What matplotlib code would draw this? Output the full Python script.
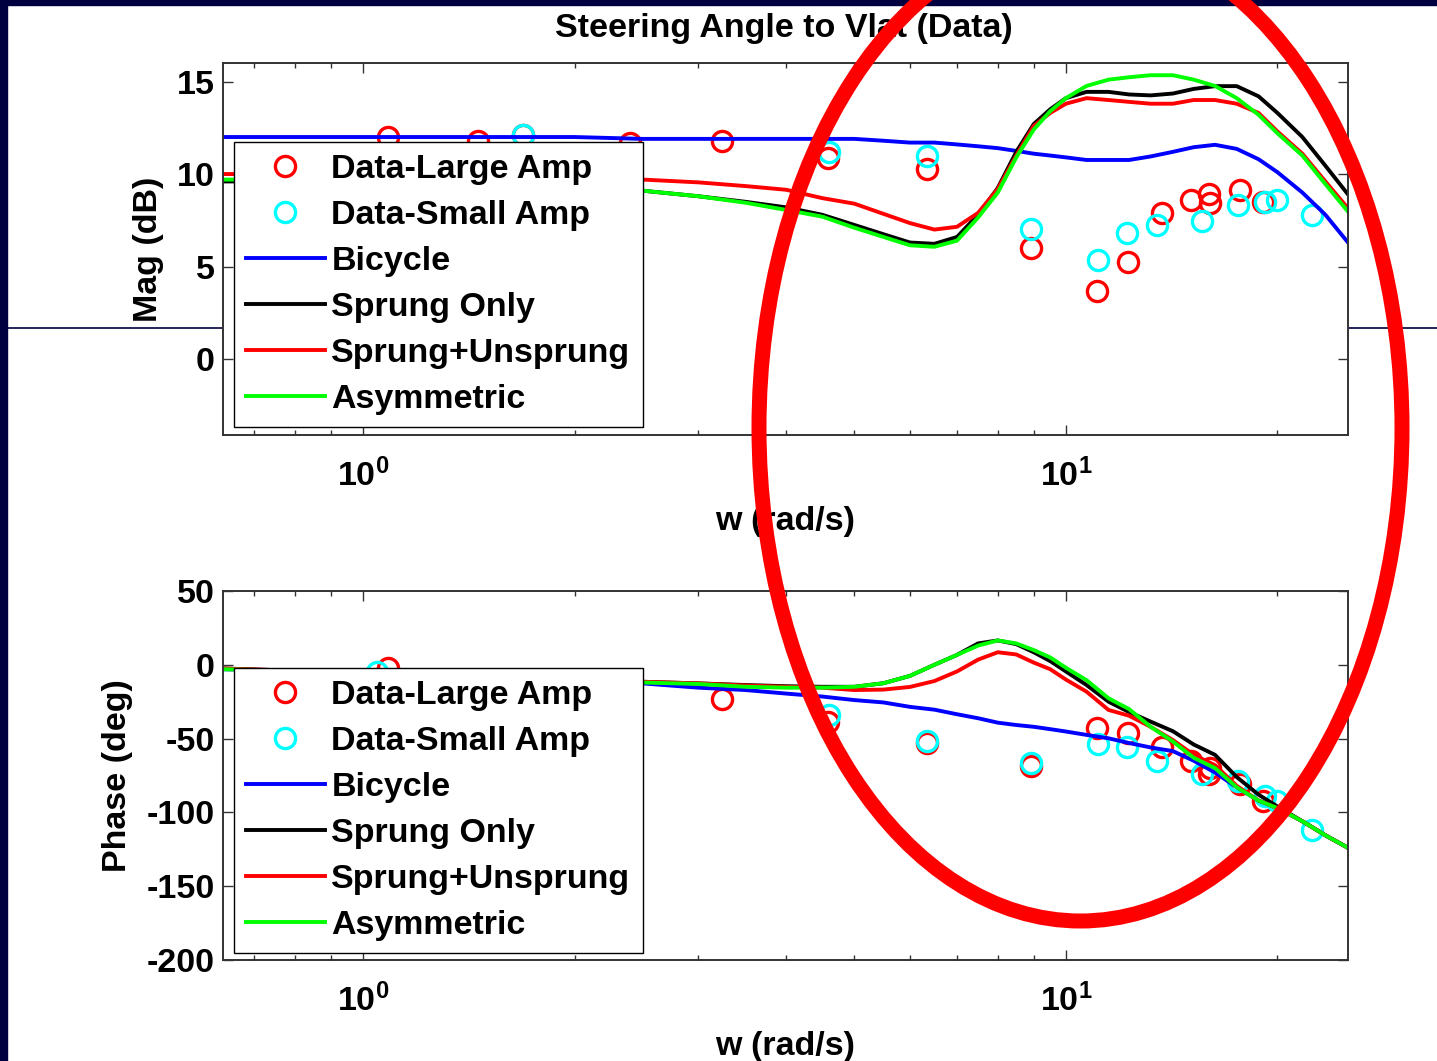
import math
import matplotlib
matplotlib.use("Agg")
import matplotlib.pyplot as plt
from matplotlib.patches import Ellipse, Rectangle
from matplotlib.lines import Line2D
from matplotlib.ticker import FixedLocator, FuncFormatter, LogLocator, NullFormatter

plt.rcParams['font.family'] = ['Liberation Sans', 'DejaVu Sans']
plt.rcParams['font.weight'] = 'bold'
plt.rcParams['axes.labelweight'] = 'bold'
plt.rcParams['axes.unicode_minus'] = False
plt.rcParams['mathtext.fontset'] = 'custom'
plt.rcParams['mathtext.rm'] = 'Liberation Sans:bold'
plt.rcParams['mathtext.it'] = 'Liberation Sans:bold'
plt.rcParams['mathtext.bf'] = 'Liberation Sans:bold'
plt.rcParams['mathtext.default'] = 'rm'

# measured data, large steering amplitude
w_large = [1.085, 1.458, 1.689, 2.40, 3.24, 4.58, 6.35, 8.91, 11.07, 12.25,
           13.7, 15.09, 15.96, 16.05, 17.7, 19.05]
mag_large = [12.0, 11.8, 12.1, 11.7, 11.76, 10.85, 10.27, 5.98, 3.7, 5.25,
             7.91, 8.6, 8.94, 8.46, 9.15, 8.5]
ph_large = [-2.5, -16.0, -14.0, -14.0, -23.4, -38.5, -53.0, -68.9, -43.0, -46.4,
            -55.4, -65.1, -74.1, -70.0, -81.0, -92.6]

# measured data, small steering amplitude
w_small = [1.047, 1.689, 4.60, 6.34, 8.91, 11.1, 12.2, 13.5, 15.6, 17.55,
           19.2, 19.98, 22.4]
mag_small = [10.8, 12.1, 11.17, 10.95, 7.04, 5.38, 6.83, 7.23, 7.46, 8.31,
             8.5, 8.6, 7.79]
ph_small = [-4.7, -14.0, -34.0, -51.6, -66.2, -53.8, -56.0, -65.1, -73.9, -79.0,
            -89.0, -92.6, -111.7]

# model frequency grid (rad/s)
w_model = [0.63, 0.8, 1.0, 1.3, 1.6, 2.0, 2.5, 3.0, 3.5, 4.0, 4.5, 5.0, 5.5,
           6.0, 6.5, 7.0, 7.5, 8.0, 8.5, 9.0, 9.5, 10.0, 10.7, 11.5, 12.3,
           13.2, 14.2, 15.2, 16.3, 17.5, 18.8, 20.0, 21.7, 23.4, 25.2]

mag_bicycle = [12.0, 12.0, 12.0, 12.0, 12.0, 12.0, 11.9, 11.9, 11.9, 11.9,
               11.9, 11.9, 11.8, 11.7, 11.7, 11.6, 11.5, 11.4, 11.25, 11.1,
               11.0, 10.9, 10.76, 10.76, 10.76, 10.95, 11.2, 11.45, 11.58,
               11.36, 10.8, 10.1, 9.0, 7.8, 6.3]
mag_sprung = [9.6, 9.6, 9.5, 9.4, 9.35, 9.2, 9.1, 8.8, 8.5, 8.2, 7.8, 7.25,
              6.75, 6.3, 6.23, 6.6, 7.8, 9.25, 11.2, 12.7, 13.5, 14.1, 14.44,
              14.44, 14.3, 14.25, 14.35, 14.6, 14.75, 14.75, 14.2, 13.3, 12.0,
              10.45, 8.9]
mag_unsprung = [10.0, 10.0, 9.9, 9.85, 9.8, 9.75, 9.7, 9.55, 9.35, 9.15, 8.7,
                8.4, 7.85, 7.35, 7.0, 7.15, 7.9, 9.2, 11.0, 12.6, 13.3, 13.8,
                14.1, 14.0, 13.9, 13.8, 13.8, 14.0, 14.0, 13.8, 13.3, 12.3,
                11.1, 9.6, 8.15]
mag_asym = [9.7, 9.7, 9.5, 9.4, 9.35, 9.2, 9.1, 8.8, 8.45, 8.06, 7.7, 7.1,
            6.6, 6.15, 6.07, 6.4, 7.65, 9.0, 10.9, 12.4, 13.4, 14.1, 14.76,
            15.1, 15.23, 15.34, 15.34, 15.1, 14.76, 14.1, 13.2, 12.2, 11.0,
            9.46, 7.97]

ph_bicycle = [-3.0, -4.0, -5.0, -7.0, -8.5, -10.0, -12.6, -15.5, -17.1, -19.5,
              -21.5, -23.9, -25.5, -28.5, -30.4, -33.5, -36.2, -39.2, -40.8,
              -42.0, -43.6, -45.2, -47.5, -49.8, -53.0, -56.0, -58.5, -65.0,
              -73.0, -83.0, -92.0, -97.1, -106.0, -115.5, -124.0]
ph_sprung = [-2.5, -4.0, -5.0, -7.0, -8.5, -10.0, -11.5, -12.6, -13.7, -14.5,
             -14.9, -14.9, -12.5, -7.5, 0.0, 6.7, 14.5, 16.5, 14.0, 8.5, 2.5,
             -4.5, -13.7, -25.0, -32.0, -38.5, -45.0, -54.0, -61.0, -76.0,
             -88.0, -96.0, -106.0, -115.5, -124.0]
ph_unsprung = [-2.5, -4.0, -5.0, -7.0, -8.5, -10.0, -11.5, -12.6, -14.0,
               -14.9, -15.5, -17.1, -16.8, -15.0, -11.0, -4.5, 3.5, 8.5, 7.0,
               1.5, -3.0, -10.0, -18.2, -30.6, -34.5, -42.0, -51.0, -61.0,
               -68.0, -82.0, -92.0, -97.1, -106.0, -115.5, -124.0]
ph_asym = [-3.0, -4.0, -5.0, -7.0, -8.5, -10.0, -12.0, -13.0, -14.9, -15.5,
           -15.5, -14.9, -12.5, -7.5, 0.0, 6.7, 13.0, 16.5, 14.5, 10.0, 5.0,
           -2.0, -10.4, -22.7, -30.0, -42.0, -52.0, -63.0, -70.0, -83.0,
           -92.0, -97.1, -106.0, -115.5, -124.0]

labels = ['Data-Large Amp', 'Data-Small Amp', 'Bicycle', 'Sprung Only',
          'Sprung+Unsprung', 'Asymmetric']

W, H = 1437, 1061
fig = plt.figure(figsize=(W / 100, H / 100), dpi=100)
fig.patch.set_facecolor('white')

navy = '#000040'
# slide decorations
fig.add_artist(Rectangle((0, 0), 7 / W, 1, transform=fig.transFigure,
                         color=navy, zorder=-2))
fig.add_artist(Rectangle((0, 1 - 5 / H), 1, 5 / H, transform=fig.transFigure,
                         color=navy, zorder=-2))
fig.add_artist(Line2D([0, 1], [1 - 328 / H, 1 - 328 / H], transform=fig.transFigure,
                      color=navy, lw=1.2, zorder=-1))

ax1 = fig.add_axes([223 / W, 1 - 435 / H, 1125 / W, 372 / H])
ax2 = fig.add_axes([223 / W, 1 - 960 / H, 1125 / W, 369 / H])


def draw(ax, d_large, d_small, m_bic, m_spr, m_uns, m_asy):
    ax.semilogx(w_large, d_large, 'o', mfc='none', mec='#ff0000', ms=14.5, mew=2.4)
    ax.semilogx(w_small, d_small, 'o', mfc='none', mec='#00ffff', ms=14.5, mew=2.4)
    ax.semilogx(w_model, m_bic, color='#0000ff', lw=2.8)
    ax.semilogx(w_model, m_spr, color='black', lw=2.8)
    ax.semilogx(w_model, m_uns, color='#ff0000', lw=2.8)
    ax.semilogx(w_model, m_asy, color='#00ff00', lw=2.8)
    ax.set_xlim(0.632, 25.2)
    ax.xaxis.set_major_locator(FixedLocator([1, 10]))
    ax.xaxis.set_major_formatter(FuncFormatter(
        lambda v, p: r'$10^{%d}$' % round(math.log10(v))))
    ax.xaxis.set_minor_locator(LogLocator(base=10, subs=range(2, 10)))
    ax.xaxis.set_minor_formatter(NullFormatter())
    ax.tick_params(which='both', direction='in', top=True, right=True,
                   labelsize=24.5, color='#333333', width=1.0)
    ax.tick_params(which='major', length=7)
    ax.tick_params(which='minor', length=3.6)
    ax.tick_params(axis='x', pad=17)
    ax.tick_params(axis='y', pad=6)
    for s in ax.spines.values():
        s.set_color('#333333')
        s.set_linewidth(1.4)
    ax.set_xlabel('w (rad/s)', fontsize=24.5, labelpad=9)
    leg = ax.legend(labels, loc='upper left', borderaxespad=0,
                    prop={'size': 24.5, 'weight': 'bold'}, frameon=True,
                    fancybox=False, framealpha=1, edgecolor='black',
                    borderpad=0.36, labelspacing=0.44, handlelength=2.3,
                    handletextpad=0.2, numpoints=1)
    leg.get_frame().set_linewidth(1.0)
    return leg


leg1 = draw(ax1, mag_large, mag_small, mag_bicycle, mag_sprung, mag_unsprung, mag_asym)
leg1.set_bbox_to_anchor((0.0098, 0.7876), transform=ax1.transAxes)
ax1.set_ylim(-4.1, 16.0)
ax1.set_yticks([0, 5, 10, 15])
ax1.set_ylabel('Mag (dB)', fontsize=24.5)
ax1.yaxis.set_label_coords(-0.052, 0.5)

leg2 = draw(ax2, ph_large, ph_small, ph_bicycle, ph_sprung, ph_unsprung, ph_asym)
leg2.set_bbox_to_anchor((0.0098, 0.7913), transform=ax2.transAxes)
ax2.set_ylim(-200, 50)
ax2.set_yticks([-200, -150, -100, -50, 0, 50])
ax2.set_ylabel('Phase (deg)', fontsize=24.5)
ax2.yaxis.set_label_coords(-0.080, 0.5)

fig.text(784 / W, 1 - 29 / H, 'Steering Angle to Vlat (Data)', fontsize=24.5,
         fontweight='bold', ha='center', va='center')

# hand-drawn highlight ellipse
fig.add_artist(Ellipse((1080.5 / W, 1 - 428 / H), 643 / W, 986 / H,
                       transform=fig.transFigure, fill=False,
                       edgecolor='#ff0000', lw=10.8, zorder=10))

fig.savefig('out.png', dpi=100)
